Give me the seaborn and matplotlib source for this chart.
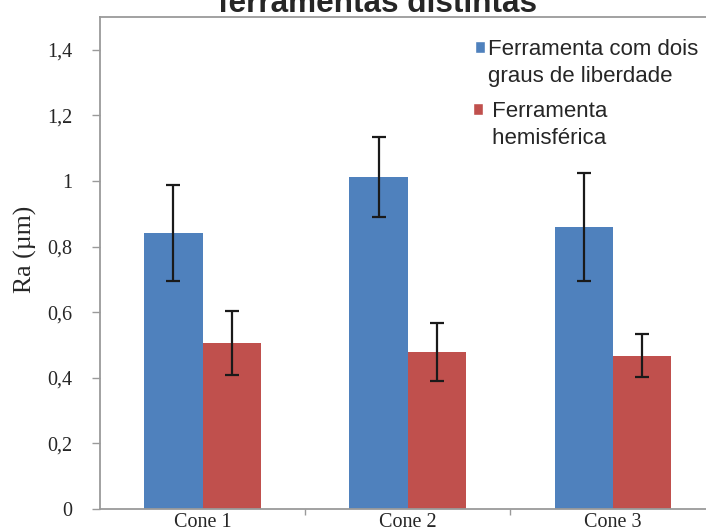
import matplotlib
matplotlib.use("Agg")
import matplotlib.pyplot as plt
from matplotlib.patches import Patch
import seaborn as sns
import pandas as pd

# ---- data ----
categories = ["Cone 1", "Cone 2", "Cone 3"]
series_names = ["Ferramenta com dois graus de liberdade", "Ferramenta hemisférica"]
ra_dois_graus = [0.842, 1.012, 0.860]
err_dois_graus = [0.147, 0.123, 0.164]
ra_hemisferica = [0.507, 0.478, 0.467]
err_hemisferica = [0.098, 0.089, 0.066]
y_ticks = [0, 0.2, 0.4, 0.6, 0.8, 1.0, 1.2, 1.4]
y_tick_labels = ["0", "0,2", "0,4", "0,6", "0,8", "1", "1,2", "1,4"]
title_text = "ferramentas distintas"
y_label = "Ra (µm)"

blue = "#4F81BD"
red = "#C0504D"
grey = "#9A9A9A"

df = pd.DataFrame({
    "Cone": categories * 2,
    "Ferramenta": [series_names[0]] * 3 + [series_names[1]] * 3,
    "Ra": ra_dois_graus + ra_hemisferica,
})

sns.set_style("white")
serif = ["Liberation Serif", "DejaVu Serif"]
sans = ["Liberation Sans", "DejaVu Sans"]

W, H = 706, 531
fig = plt.figure(figsize=(W / 100, H / 100), dpi=100)
ax = fig.add_axes([100 / W, 22 / H, (W - 100) / W, 492 / H])

sns.barplot(data=df, x="Cone", y="Ra", hue="Ferramenta", hue_order=series_names,
            order=categories, palette=[blue, red], width=0.566, saturation=1,
            errorbar=None, legend=False, linewidth=0, ax=ax)

for cont, errs in zip(ax.containers, [err_dois_graus, err_hemisferica]):
    xs = [b.get_x() + b.get_width() / 2 for b in cont]
    ys = [b.get_height() for b in cont]
    ax.errorbar(xs, ys, yerr=errs, fmt="none", ecolor="#1a1a1a",
                elinewidth=1.6, capsize=5, capthick=1.6, zorder=5)

ax.set_xlim(-0.5, 2.456)
ax.set_ylim(0, 1.5)
ax.set_yticks(y_ticks)
ax.set_yticklabels(y_tick_labels, fontfamily=serif, fontsize=14.5)
ax.set_xticks(range(len(categories)))
ax.set_xticklabels(categories, fontfamily=serif, fontsize=14.5)
ax.set_xticks([0.5, 1.5], minor=True)
ax.set_xlabel("")
ax.set_ylabel(y_label, fontfamily=serif, fontsize=18.5)
ax.yaxis.set_label_coords(-0.104, 0.528)

ax.tick_params(axis="y", which="major", length=6, width=1, color=grey,
               direction="out", pad=14, left=True)
ax.tick_params(axis="x", which="major", length=0, pad=3, bottom=True)
ax.tick_params(axis="x", which="minor", length=4, width=1, color=grey,
               direction="out", bottom=True)

for side in ["left", "bottom", "top"]:
    ax.spines[side].set_visible(True)
    ax.spines[side].set_color(grey)
    ax.spines[side].set_linewidth(1.3)
ax.spines["right"].set_visible(False)
ax.grid(False)

# title (partly cut by the top of the image, as in the source picture)
fig.text(378 / W, 1 - 12 / H, title_text, ha="center", va="baseline",
         fontsize=22.7, fontweight="bold", fontfamily=sans)

# legend, two blocks
invisible = Patch(facecolor="none", edgecolor="none")
leg_kw = dict(frameon=False, prop={"family": sans, "size": 16},
              handlelength=0.45, handleheight=0.45, handletextpad=0.15,
              labelspacing=0.27, borderpad=0, borderaxespad=0,
              bbox_transform=fig.transFigure, loc="upper left")
leg1 = ax.legend([Patch(facecolor=blue), invisible],
                 ["Ferramenta com dois", "graus de liberdade"],
                 bbox_to_anchor=(475 / W, 1 - 39 / H), **leg_kw)
ax.add_artist(leg1)
leg2 = ax.legend([Patch(facecolor=red), invisible],
                 [" Ferramenta", " hemisférica"],
                 bbox_to_anchor=(473 / W, 1 - 101 / H), **leg_kw)

fig.savefig("out.png", dpi=100)
